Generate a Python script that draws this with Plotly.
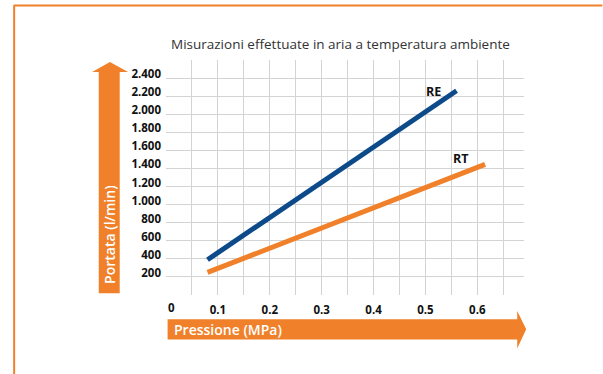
import plotly.graph_objects as go

# Flow rate vs. pressure, measured in air at room temperature
pressure_re = [0.08, 0.56]
flow_re = [390, 2260]
pressure_rt = [0.08, 0.615]
flow_rt = [250, 1445]

series_names = ["RE", "RT"]
x_tick_values = [0, 0.1, 0.2, 0.3, 0.4, 0.5, 0.6]
x_tick_labels = ["0", "0.1", "0.2", "0.3", "0.4", "0.5", "0.6"]
x_grid_values = [0.05, 0.1, 0.15, 0.2, 0.25, 0.3, 0.35, 0.4, 0.45, 0.5, 0.55, 0.6, 0.65]
y_tick_values = [200, 400, 600, 800, 1000, 1200, 1400, 1600, 1800, 2000, 2200, 2400]
y_tick_labels = ["200", "400", "600", "800", "1.000", "1.200", "1.400", "1.600",
                 "1.800", "2.000", "2.200", "2.400"]

title_text = "Misurazioni effettuate in aria a temperatura ambiente"
x_title = "Pressione (MPa)"
y_title = "Portata (l/min)"

BLUE = "#0c4a8a"
ORANGE = "#f0812a"
GRID = "#d3d3d3"
FONT = "Open Sans"

W, H = 603, 374
L, B = 165.7, 294.8          # plot-area left / bottom in pixels
PW, PH = 358.8, 235.2        # plot-area width / height in pixels


def px(x):
    return (x - L) / PW


def py(y):
    return (B - y) / PH


def path(points):
    return "M " + " L ".join(f"{px(a):.5f},{py(b):.5f}" for a, b in points) + " Z"


fig = go.Figure()
fig.add_trace(go.Scatter(x=pressure_re, y=flow_re, mode="lines", name=series_names[0],
                         line=dict(color=BLUE, width=5), hoverinfo="x+y"))
fig.add_trace(go.Scatter(x=pressure_rt, y=flow_rt, mode="lines", name=series_names[1],
                         line=dict(color=ORANGE, width=5), hoverinfo="x+y"))

shapes = [
    # page frame
    dict(type="line", xref="paper", yref="paper", x0=px(13), x1=px(603), y0=py(5), y1=py(5),
         line=dict(color=ORANGE, width=2)),
    dict(type="line", xref="paper", yref="paper", x0=px(13.5), x1=px(13.5), y0=py(5), y1=py(374),
         line=dict(color=ORANGE, width=2)),
    # vertical axis arrow
    dict(type="path", xref="paper", yref="paper", fillcolor=ORANGE, line=dict(width=0),
         path=path([(98.3, 293), (98.3, 71.7), (91.7, 71.7), (109.5, 61.7),
                    (127.7, 71.7), (119.3, 71.7), (119.3, 293)])),
    # horizontal axis arrow
    dict(type="path", xref="paper", yref="paper", fillcolor=ORANGE, line=dict(width=0),
         path=path([(167.3, 319), (517.7, 319), (517.7, 310.7), (526.7, 329),
                    (517.7, 348.3), (517.7, 339.3), (167.3, 339.3)])),
]

tick_font = dict(family=FONT, size=11.5, color="#111111", weight="bold")

annotations = [
    dict(text=title_text, xref="paper", yref="paper", x=px(341), y=py(43.3),
         showarrow=False, xanchor="center", yanchor="middle",
         font=dict(family=FONT, size=13.5, color="#333333")),
    dict(text=y_title, xref="paper", yref="paper", x=px(108.8), y=py(286),
         showarrow=False, textangle=-90, xanchor="center", yanchor="bottom",
         font=dict(family=FONT, size=14, color="white", weight=600)),
    dict(text=x_title, xref="paper", yref="paper", x=px(172), y=py(329),
         showarrow=False, xanchor="left", yanchor="middle",
         font=dict(family=FONT, size=14, color="white", weight=600)),
    dict(text=x_tick_labels[0], xref="x", yref="paper", x=x_tick_values[0], y=py(307.5),
         showarrow=False, xanchor="center", yanchor="middle", xshift=5,
         font=tick_font),
    dict(text=series_names[0], xref="x", yref="y", x=pressure_re[1], y=flow_re[1],
         showarrow=False, xanchor="center", yanchor="middle", xshift=-23, yshift=-1,
         font=dict(family=FONT, size=12.5, color="#111111", weight="bold")),
    dict(text=series_names[1], xref="x", yref="y", x=pressure_rt[1], y=flow_rt[1],
         showarrow=False, xanchor="center", yanchor="middle", xshift=-24, yshift=6,
         font=dict(family=FONT, size=12.5, color="#111111", weight="bold")),
]

# one extra tick per labelled value keeps the half-step grid without a line at 0
x_text = {round(v, 3): t for v, t in zip(x_tick_values, x_tick_labels)}
fig.update_layout(
    width=W, height=H,
    margin=dict(l=L, r=W - L - PW, t=B - PH, b=H - B),
    paper_bgcolor="white", plot_bgcolor="white",
    showlegend=False,
    shapes=shapes, annotations=annotations,
    xaxis=dict(range=[0, 0.69], tickvals=x_grid_values,
               ticktext=[x_text.get(round(v, 3), "") for v in x_grid_values],
               showgrid=True, gridcolor=GRID, gridwidth=1.3, zeroline=False,
               showline=False, ticks="", ticklabelstandoff=6,
               tickfont=tick_font),
    yaxis=dict(range=[0, 2600], tickvals=y_tick_values, ticktext=y_tick_labels,
               showgrid=True, gridcolor=GRID, gridwidth=1.3, zeroline=False,
               showline=False, ticks="", ticklabelstandoff=4, ticklabelshift=-4,
               tickfont=tick_font),
)

fig.write_html("out.html")
